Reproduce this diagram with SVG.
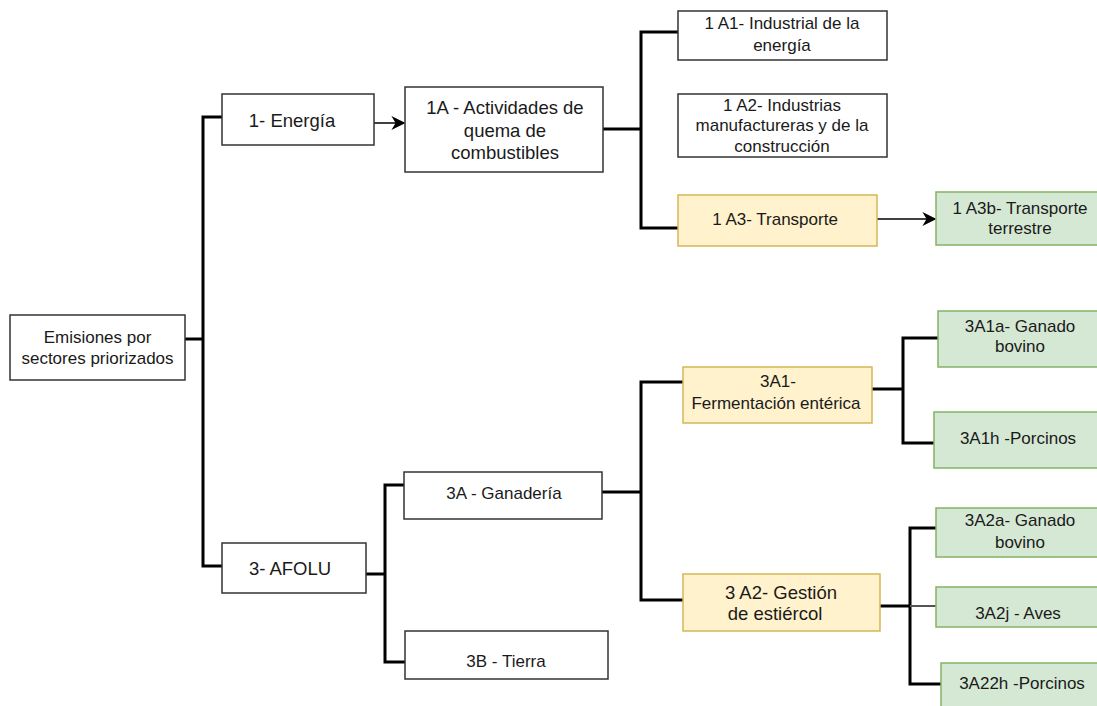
<svg xmlns="http://www.w3.org/2000/svg" width="1097" height="706" viewBox="0 0 1097 706">
<defs>
<style>
.w{fill:#ffffff;stroke:#333333;stroke-width:1.5}
.y{fill:#fff2cc;stroke:#d6b656;stroke-width:1.5}
.g{fill:#d5e8d4;stroke:#82b366;stroke-width:1.5}
.t{font-family:"Liberation Sans",Arial,sans-serif;font-size:17px;fill:#1a1a1a;text-anchor:middle}
.b{font-size:18.5px}
.e{fill:none;stroke:#000;stroke-width:3}
.a{fill:none;stroke:#000;stroke-width:1.5}
</style>
<marker id="arr" viewBox="0 0 10 10" refX="9" refY="5" markerWidth="7" markerHeight="7" markerUnits="userSpaceOnUse" orient="auto">
<path d="M0,0 L10,5 L0,10 L3,5 Z" fill="#000"/>
</marker>
<marker id="arr2" viewBox="0 0 10 10" refX="9" refY="5" markerWidth="14" markerHeight="14" markerUnits="userSpaceOnUse" orient="auto">
<path d="M0,0 L10,5 L0,10 L3,5 Z" fill="#000"/>
</marker>
</defs>
<rect width="1097" height="706" fill="#ffffff"/>
<g id="connectors">
<path class="e" d="M185,339 H203"/>
<path class="e" d="M222,117 H203 V566 H222"/>
<path class="e" d="M366,574 H385"/>
<path class="e" d="M404,485 H385 V662 H405"/>
<path class="e" d="M603,129 H641"/>
<path class="e" d="M678,32 H641 V228 H678"/>
<path class="e" d="M602,492 H641"/>
<path class="e" d="M683,382 H641 V600 H683"/>
<path class="e" d="M872,389 H903"/>
<path class="e" d="M938,338 H903 V443 H934"/>
<path class="e" d="M880,606 H910"/>
<path class="e" d="M940,528 H910 V684 H941"/>
<path d="M910,606 H936" fill="none" stroke="#555" stroke-width="2"/>
<path class="a" d="M374,123 H404" marker-end="url(#arr2)"/>
<path class="a" d="M877,219 H935" marker-end="url(#arr2)"/>
</g>
<g id="emisiones"><rect class="w" x="10" y="315" width="175" height="65"/><text class="t" x="97.5" y="343">Emisiones por</text><text class="t" x="97.5" y="364">sectores priorizados</text></g>
<g id="energia"><rect class="w" x="222" y="94" width="152" height="51"/><text class="t b" x="292" y="126.5">1- Energía</text></g>
<g id="afolu"><rect class="w" x="222" y="543" width="144" height="50"/><text class="t b" x="290" y="574.5">3- AFOLU</text></g>
<g id="n1a"><rect class="w" x="405" y="87" width="198" height="85"/><text class="t b" x="505" y="114">1A - Actividades de</text><text class="t b" x="505" y="136.5">quema de</text><text class="t b" x="505" y="159">combustibles</text></g>
<g id="n1a1"><rect class="w" x="678" y="11" width="209" height="49"/><text class="t" x="782" y="29">1 A1- Industrial de la</text><text class="t" x="782" y="51">energía</text></g>
<g id="n1a2"><rect class="w" x="678" y="94" width="209" height="63"/><text class="t" x="782" y="111">1 A2- Industrias</text><text class="t" x="782" y="131">manufactureras y de la</text><text class="t" x="782" y="152">construcción</text></g>
<g id="n1a3"><rect class="y" x="678" y="195" width="199" height="51"/><text class="t" x="775" y="225">1 A3- Transporte</text></g>
<g id="n1a3b"><rect class="g" x="936" y="192" width="170" height="53"/><text class="t" x="1020" y="214">1 A3b- Transporte</text><text class="t" x="1020" y="234">terrestre</text></g>
<g id="n3a"><rect class="w" x="404" y="472" width="198" height="47"/><text class="t" x="504" y="499">3A - Ganadería</text></g>
<g id="n3b"><rect class="w" x="405" y="631" width="203" height="48"/><text class="t" x="506" y="667">3B - Tierra</text></g>
<g id="n3a1"><rect class="y" x="683" y="367" width="189" height="56"/><text class="t" x="778" y="387">3A1-</text><text class="t" x="776" y="409">Fermentación entérica</text></g>
<g id="n3a2"><rect class="y" x="683" y="574" width="197" height="57"/><text class="t b" x="781" y="598.5">3 A2- Gestión</text><text class="t b" x="775" y="619.5">de estiércol</text></g>
<g id="n3a1a"><rect class="g" x="938" y="311" width="170" height="56"/><text class="t" x="1020" y="332">3A1a- Ganado</text><text class="t" x="1020" y="352">bovino</text></g>
<g id="n3a1h"><rect class="g" x="934" y="412" width="170" height="56"/><text class="t" x="1018" y="444">3A1h -Porcinos</text></g>
<g id="n3a2a"><rect class="g" x="936" y="508" width="170" height="49"/><text class="t" x="1020" y="526">3A2a- Ganado</text><text class="t" x="1020" y="548">bovino</text></g>
<g id="n3a2j"><rect class="g" x="936" y="587" width="170" height="40"/><text class="t" x="1018" y="619">3A2j - Aves</text></g>
<g id="n3a22h"><rect class="g" x="941" y="663" width="170" height="50"/><text class="t" x="1022" y="689">3A22h -Porcinos</text></g>
</svg>
